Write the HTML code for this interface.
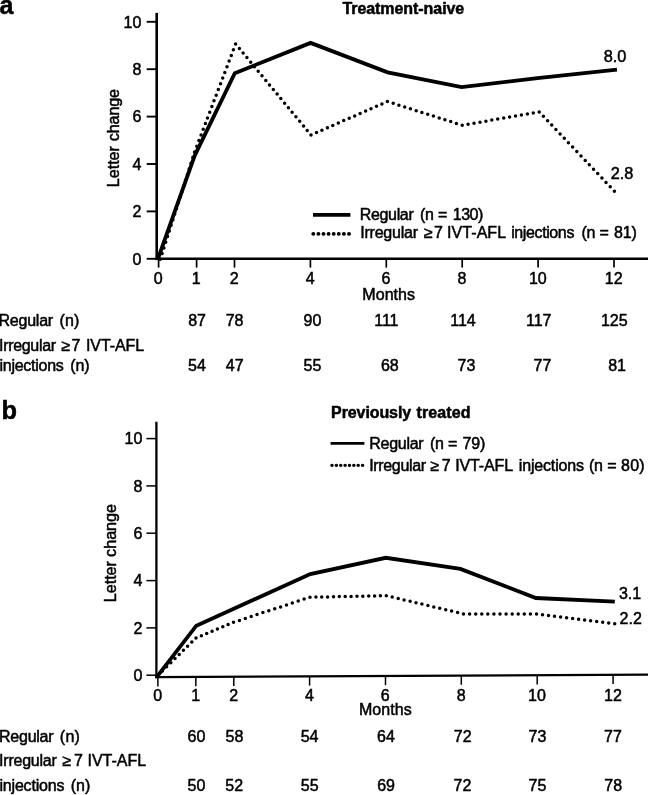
<!DOCTYPE html>
<html><head><meta charset="utf-8"><title>Figure</title>
<style>html,body{margin:0;padding:0;background:#fff;}svg{display:block;filter:grayscale(1);}</style></head>
<body>
<svg width="648" height="795" viewBox="0 0 648 795">
<rect width="648" height="795" fill="#fff"/>
<g font-family="'Liberation Sans', sans-serif" fill="#000" stroke="#000" stroke-width="0.5" stroke-linejoin="round">
<text x="-0.5" y="13.5" font-size="25" font-weight="bold">a</text>
<text x="1.5" y="418.7" font-size="25.4" font-weight="bold">b</text>
<text x="342.4" y="13.9" font-size="16" letter-spacing="-0.06" font-weight="bold">Treatment-naive</text>
<text x="331.1" y="417.7" font-size="16" letter-spacing="-0.10" font-weight="bold">Previously</text>
<text x="416.5" y="417.7" font-size="16" letter-spacing="0.13" font-weight="bold">treated</text>
<line x1="156.7" y1="12.9" x2="156.7" y2="260.1" stroke-width="2.6"/>
<line x1="155.39999999999998" y1="258.8" x2="648" y2="258.8" stroke-width="2.6"/>
<line x1="146.7" y1="258.8" x2="156.7" y2="258.8" stroke-width="1.9"/>
<text x="141.4" y="264.5" font-size="16" text-anchor="end">0</text>
<line x1="146.7" y1="211.4" x2="156.7" y2="211.4" stroke-width="1.9"/>
<text x="141.4" y="217.1" font-size="16" text-anchor="end">2</text>
<line x1="146.7" y1="164.0" x2="156.7" y2="164.0" stroke-width="1.9"/>
<text x="141.4" y="169.7" font-size="16" text-anchor="end">4</text>
<line x1="146.7" y1="116.6" x2="156.7" y2="116.6" stroke-width="1.9"/>
<text x="141.4" y="122.3" font-size="16" text-anchor="end">6</text>
<line x1="146.7" y1="69.2" x2="156.7" y2="69.2" stroke-width="1.9"/>
<text x="141.4" y="74.9" font-size="16" text-anchor="end">8</text>
<line x1="146.7" y1="21.8" x2="156.7" y2="21.8" stroke-width="1.9"/>
<text x="141.4" y="27.5" font-size="16" text-anchor="end">10</text>
<line x1="158.6" y1="258.8" x2="158.6" y2="267.6" stroke-width="1.7"/>
<text x="158.3" y="284.3" font-size="16" text-anchor="middle">0</text>
<line x1="196.6" y1="258.8" x2="196.6" y2="267.6" stroke-width="1.7"/>
<text x="196.2" y="284.3" font-size="16" text-anchor="middle">1</text>
<line x1="234.5" y1="258.8" x2="234.5" y2="267.6" stroke-width="1.7"/>
<text x="234.2" y="284.3" font-size="16" text-anchor="middle">2</text>
<line x1="310.4" y1="258.8" x2="310.4" y2="267.6" stroke-width="1.7"/>
<text x="310.1" y="284.3" font-size="16" text-anchor="middle">4</text>
<line x1="386.3" y1="258.8" x2="386.3" y2="267.6" stroke-width="1.7"/>
<text x="386.0" y="284.3" font-size="16" text-anchor="middle">6</text>
<line x1="462.2" y1="258.8" x2="462.2" y2="267.6" stroke-width="1.7"/>
<text x="461.9" y="284.3" font-size="16" text-anchor="middle">8</text>
<line x1="538.1" y1="258.8" x2="538.1" y2="267.6" stroke-width="1.7"/>
<text x="537.8" y="284.3" font-size="16" text-anchor="middle">10</text>
<line x1="614.0" y1="258.8" x2="614.0" y2="267.6" stroke-width="1.7"/>
<text x="613.7" y="284.3" font-size="16" text-anchor="middle">12</text>
<line x1="156.4" y1="421.8" x2="156.4" y2="678.3" stroke-width="2.3"/>
<line x1="155.25" y1="677.2" x2="648" y2="674.7" stroke-width="2.2"/>
<line x1="146.4" y1="675.2" x2="156.4" y2="675.2" stroke-width="1.5"/>
<text x="142.3" y="680.9" font-size="16" text-anchor="end">0</text>
<line x1="146.4" y1="627.9" x2="156.4" y2="627.9" stroke-width="1.5"/>
<text x="142.3" y="633.6" font-size="16" text-anchor="end">2</text>
<line x1="146.4" y1="580.6" x2="156.4" y2="580.6" stroke-width="1.5"/>
<text x="142.3" y="586.3" font-size="16" text-anchor="end">4</text>
<line x1="146.4" y1="533.2" x2="156.4" y2="533.2" stroke-width="1.5"/>
<text x="142.3" y="538.9" font-size="16" text-anchor="end">6</text>
<line x1="146.4" y1="485.9" x2="156.4" y2="485.9" stroke-width="1.5"/>
<text x="142.3" y="491.6" font-size="16" text-anchor="end">8</text>
<line x1="146.4" y1="438.6" x2="156.4" y2="438.6" stroke-width="1.5"/>
<text x="142.3" y="444.3" font-size="16" text-anchor="end">10</text>
<line x1="157.9" y1="677.2" x2="157.9" y2="686.4" stroke-width="1.5"/>
<text x="157.7" y="700.9" font-size="16" text-anchor="middle">0</text>
<line x1="195.8" y1="677.0" x2="195.8" y2="686.2" stroke-width="1.5"/>
<text x="195.6" y="700.9" font-size="16" text-anchor="middle">1</text>
<line x1="233.8" y1="676.8" x2="233.8" y2="686.0" stroke-width="1.5"/>
<text x="233.6" y="700.9" font-size="16" text-anchor="middle">2</text>
<line x1="309.6" y1="676.4" x2="309.6" y2="685.6" stroke-width="1.5"/>
<text x="309.4" y="700.9" font-size="16" text-anchor="middle">4</text>
<line x1="385.5" y1="676.0" x2="385.5" y2="685.2" stroke-width="1.5"/>
<text x="385.3" y="700.9" font-size="16" text-anchor="middle">6</text>
<line x1="461.3" y1="675.6" x2="461.3" y2="684.8" stroke-width="1.5"/>
<text x="461.1" y="700.9" font-size="16" text-anchor="middle">8</text>
<line x1="537.2" y1="675.3" x2="537.2" y2="684.5" stroke-width="1.5"/>
<text x="537.0" y="700.9" font-size="16" text-anchor="middle">10</text>
<line x1="613.1" y1="674.9" x2="613.1" y2="684.1" stroke-width="1.5"/>
<text x="612.9" y="700.9" font-size="16" text-anchor="middle">12</text>
<text transform="translate(118.8,187.2) rotate(-90)" font-size="16.2" letter-spacing="-0.05">Letter</text>
<text transform="translate(118.8,141.2) rotate(-90)" font-size="16.2" letter-spacing="-0.17">change</text>
<text transform="translate(116.1,602.2) rotate(-90)" font-size="16.2" letter-spacing="-0.05">Letter</text>
<text transform="translate(116.1,556.9) rotate(-90)" font-size="16.2" letter-spacing="-0.03">change</text>
<text x="362.3" y="299.7" font-size="16" letter-spacing="0.06">Months</text>
<text x="359.0" y="715.0" font-size="16" letter-spacing="0.04">Months</text>
<path d="M160.3 259.2h.01M162.1 253.6h.01M163.9 247.9h.01M165.7 242.3h.01M167.5 236.6h.01M169.3 231.0h.01M171.1 225.3h.01M172.9 219.7h.01M174.7 214.1h.01M176.5 208.4h.01M178.4 202.8h.01M180.2 197.1h.01M182.0 191.5h.01M183.8 185.9h.01M185.6 180.2h.01M187.4 174.6h.01M189.2 168.9h.01M191.0 163.3h.01M192.8 157.6h.01M194.6 152.0h.01M196.8 146.3h.01M198.9 140.6h.01M201.1 134.9h.01M203.2 129.3h.01M205.4 123.6h.01M207.5 117.9h.01M209.7 112.2h.01M211.9 106.5h.01M214.0 100.8h.01M216.2 95.2h.01M218.3 89.5h.01M220.5 83.8h.01M222.7 78.1h.01M224.8 72.4h.01M227.0 66.7h.01M229.1 61.1h.01M231.3 55.4h.01M233.4 49.7h.01M235.6 44.0h.01M239.4 48.5h.01M243.1 53.1h.01M246.9 57.6h.01M250.7 62.2h.01M254.4 66.8h.01M258.2 71.3h.01M262.0 75.8h.01M265.8 80.4h.01M269.5 85.0h.01M273.3 89.5h.01M277.1 94.1h.01M280.8 98.6h.01M284.6 103.2h.01M288.4 107.7h.01M292.1 112.2h.01M295.9 116.8h.01M299.7 121.3h.01M303.5 125.9h.01M307.2 130.4h.01M311.0 135.0h.01M316.5 132.6h.01M321.9 130.2h.01M327.4 127.8h.01M332.8 125.4h.01M338.3 123.0h.01M343.7 120.6h.01M349.2 118.2h.01M354.7 115.9h.01M360.1 113.5h.01M365.6 111.1h.01M371.0 108.7h.01M376.5 106.3h.01M381.9 103.9h.01M387.4 101.5h.01M393.2 103.3h.01M398.9 105.2h.01M404.7 107.0h.01M410.4 108.8h.01M416.2 110.7h.01M421.9 112.5h.01M427.7 114.3h.01M433.4 116.1h.01M439.2 118.0h.01M444.9 119.8h.01M450.7 121.6h.01M456.4 123.5h.01M462.2 125.3h.01M468.1 124.3h.01M474.0 123.2h.01M480.0 122.2h.01M485.9 121.2h.01M491.8 120.1h.01M497.7 119.1h.01M503.7 118.1h.01M509.6 117.1h.01M515.5 116.0h.01M521.4 115.0h.01M527.4 114.0h.01M533.3 112.9h.01M539.2 111.9h.01M543.4 116.3h.01M547.6 120.7h.01M551.7 125.1h.01M555.9 129.5h.01M560.1 133.9h.01M564.3 138.3h.01M568.4 142.7h.01M572.6 147.1h.01M576.8 151.6h.01M581.0 156.0h.01M585.2 160.4h.01M589.3 164.8h.01M593.5 169.2h.01M597.7 173.6h.01M601.9 178.0h.01M606.0 182.4h.01M610.2 186.8h.01M614.4 191.2h.01" fill="none" stroke-width="3.5" stroke-linecap="round"/>
<polyline points="158.0,258.6 194.7,155.6 234.8,73.2 310.6,42.9 387.6,72.3 461.6,87.1 537.5,78.2 617.0,69.6" fill="none" stroke-width="3.8" stroke-linejoin="miter"/>
<path d="M158.2 675.0h.01M162.4 670.9h.01M166.6 666.8h.01M170.8 662.7h.01M175.0 658.6h.01M179.2 654.4h.01M183.4 650.3h.01M187.6 646.2h.01M191.8 642.1h.01M196.0 638.0h.01M201.4 635.8h.01M206.7 633.5h.01M212.1 631.3h.01M217.4 629.0h.01M222.8 626.8h.01M228.1 624.5h.01M233.5 622.3h.01M239.4 620.4h.01M245.3 618.4h.01M251.2 616.5h.01M257.0 614.6h.01M262.9 612.6h.01M268.8 610.7h.01M274.7 608.8h.01M280.6 606.9h.01M286.5 604.9h.01M292.3 603.0h.01M298.2 601.1h.01M304.1 599.1h.01M310.0 597.2h.01M315.9 597.1h.01M321.7 597.0h.01M327.6 596.9h.01M333.5 596.7h.01M339.3 596.6h.01M345.2 596.5h.01M351.1 596.4h.01M357.0 596.3h.01M362.8 596.2h.01M368.7 596.0h.01M374.6 595.9h.01M380.4 595.8h.01M386.3 595.7h.01M392.2 597.1h.01M398.2 598.5h.01M404.1 599.9h.01M410.1 601.3h.01M416.0 602.7h.01M421.9 604.1h.01M427.9 605.5h.01M433.8 606.9h.01M439.7 608.3h.01M445.7 609.7h.01M451.6 611.1h.01M457.6 612.5h.01M463.5 613.9h.01M469.6 613.9h.01M475.7 613.9h.01M481.8 614.0h.01M487.8 614.0h.01M493.9 614.0h.01M500.0 614.0h.01M506.1 614.0h.01M512.2 614.0h.01M518.2 614.0h.01M524.3 614.1h.01M530.4 614.1h.01M536.5 614.1h.01M542.5 614.8h.01M548.5 615.6h.01M554.5 616.3h.01M560.6 617.1h.01M566.6 617.8h.01M572.6 618.6h.01M578.6 619.3h.01M584.6 620.1h.01M590.6 620.8h.01M596.7 621.6h.01M602.7 622.3h.01M608.7 623.1h.01M614.7 623.8h.01" fill="none" stroke-width="3.5" stroke-linecap="round"/>
<polyline points="157.4,676.2 196.3,625.7 310.3,574.1 385.8,557.8 460.4,568.9 535.9,598.0 614.8,601.6" fill="none" stroke-width="3.8" stroke-linejoin="miter"/>
<text x="603.7" y="61.7" font-size="16.3">8.0</text>
<text x="610.7" y="179.0" font-size="16.3">2.8</text>
<text x="618.9" y="599.4" font-size="16">3.1</text>
<text x="619.6" y="624.2" font-size="16">2.2</text>
<line x1="313" y1="214.8" x2="350.4" y2="214.8" stroke-width="3.8"/>
<line x1="313.15" y1="233.9" x2="352" y2="233.9" stroke-width="3.6" stroke-dasharray="0.3 4.8" stroke-linecap="round"/>
<text x="359.8" y="219.8" font-size="16.0" letter-spacing="-0.35">Regular</text>
<text x="420.0" y="219.8" font-size="16.0" letter-spacing="-0.40">(n</text>
<text x="438.0" y="219.8" font-size="16.0">=</text>
<text x="452.7" y="219.8" font-size="16.0" letter-spacing="-0.44">130)</text>
<text x="360.3" y="237.6" font-size="16.0" letter-spacing="-0.24">Irregular</text>
<text x="423.9" y="237.6" font-size="16.0">≥</text>
<text x="434.1" y="237.6" font-size="16.0">7</text>
<text x="447.1" y="237.6" font-size="16.0" letter-spacing="0.05">IVT-AFL</text>
<text x="511.2" y="237.6" font-size="16.0" letter-spacing="-0.39">injections</text>
<text x="581.5" y="237.6" font-size="16.0" letter-spacing="-0.40">(n</text>
<text x="599.5" y="237.6" font-size="16.0">=</text>
<text x="614.1" y="237.6" font-size="16.0" letter-spacing="-0.17">81)</text>
<line x1="330.6" y1="443.3" x2="364.4" y2="443.3" stroke-width="2.8"/>
<line x1="331.85" y1="465.3" x2="364" y2="465.3" stroke-width="3.2" stroke-dasharray="0.3 4.07" stroke-linecap="round"/>
<text x="369.3" y="448.6" font-size="16.0" letter-spacing="-0.28">Regular</text>
<text x="430.0" y="448.6" font-size="16.0" letter-spacing="-0.40">(n</text>
<text x="448.0" y="448.6" font-size="16.0">=</text>
<text x="462.4" y="448.6" font-size="16.0" letter-spacing="-0.11">79)</text>
<text x="369.2" y="470.7" font-size="16.0" letter-spacing="-0.34">Irregular</text>
<text x="430.5" y="470.7" font-size="16.0">≥</text>
<text x="441.8" y="470.7" font-size="16.0">7</text>
<text x="455.3" y="470.7" font-size="16.0" letter-spacing="-0.15">IVT-AFL</text>
<text x="518.8" y="470.7" font-size="16.0" letter-spacing="-0.17">injections</text>
<text x="589.1" y="470.7" font-size="16.0" letter-spacing="-0.40">(n</text>
<text x="607.2" y="470.7" font-size="16.0">=</text>
<text x="621.0" y="470.7" font-size="16.0" letter-spacing="0.23">80)</text>
<text x="-1.5" y="326.3" font-size="16.0" letter-spacing="-0.23">Regular</text>
<text x="59.5" y="326.3" font-size="16.0" letter-spacing="0.17">(n)</text>
<text x="-0.9" y="351.1" font-size="16.0" letter-spacing="-0.33">Irregular</text>
<text x="61.5" y="351.1" font-size="16.0">≥</text>
<text x="71.4" y="351.1" font-size="16.0">7</text>
<text x="85.9" y="351.1" font-size="16.0" letter-spacing="-0.06">IVT-AFL</text>
<text x="-0.5" y="370.5" font-size="16.0" letter-spacing="-0.27">injections</text>
<text x="70.2" y="370.5" font-size="16.0" letter-spacing="-0.08">(n)</text>
<text x="188.2" y="326.3" font-size="16.0">87</text>
<text x="225.7" y="326.3" font-size="16.0">78</text>
<text x="303.6" y="326.3" font-size="16.0">90</text>
<text x="374.2" y="326.3" font-size="16.0">111</text>
<text x="450.2" y="326.3" font-size="16.0">114</text>
<text x="526.0" y="326.3" font-size="16.0">117</text>
<text x="600.9" y="326.3" font-size="16.0">125</text>
<text x="188.0" y="370.5" font-size="16.0">54</text>
<text x="225.8" y="370.5" font-size="16.0">47</text>
<text x="303.5" y="370.5" font-size="16.0">55</text>
<text x="380.9" y="370.5" font-size="16.0">68</text>
<text x="457.6" y="370.5" font-size="16.0">73</text>
<text x="533.5" y="370.5" font-size="16.0">77</text>
<text x="608.2" y="370.5" font-size="16.0">81</text>
<text x="-1.0" y="741.7" font-size="16.0" letter-spacing="-0.24">Regular</text>
<text x="59.8" y="741.7" font-size="16.0" letter-spacing="0.27">(n)</text>
<text x="-0.9" y="766.2" font-size="16.0" letter-spacing="-0.24">Irregular</text>
<text x="62.5" y="766.2" font-size="16.0">≥</text>
<text x="74.0" y="766.2" font-size="16.0">7</text>
<text x="87.5" y="766.2" font-size="16.0" letter-spacing="-0.01">IVT-AFL</text>
<text x="-0.5" y="791.0" font-size="16.0" letter-spacing="-0.20">injections</text>
<text x="70.7" y="791.0" font-size="16.0" letter-spacing="0.02">(n)</text>
<text x="187.6" y="741.7" font-size="16.0">60</text>
<text x="225.5" y="741.7" font-size="16.0">58</text>
<text x="300.7" y="741.7" font-size="16.0">54</text>
<text x="377.1" y="741.7" font-size="16.0">64</text>
<text x="453.8" y="741.7" font-size="16.0">72</text>
<text x="528.6" y="741.7" font-size="16.0">73</text>
<text x="604.1" y="741.7" font-size="16.0">77</text>
<text x="187.6" y="791.0" font-size="16.0">50</text>
<text x="225.3" y="791.0" font-size="16.0">52</text>
<text x="300.8" y="791.0" font-size="16.0">55</text>
<text x="377.2" y="791.0" font-size="16.0">69</text>
<text x="453.6" y="791.0" font-size="16.0">72</text>
<text x="528.6" y="791.0" font-size="16.0">75</text>
<text x="604.3" y="791.0" font-size="16.0">78</text>
</g></svg>
</body></html>
